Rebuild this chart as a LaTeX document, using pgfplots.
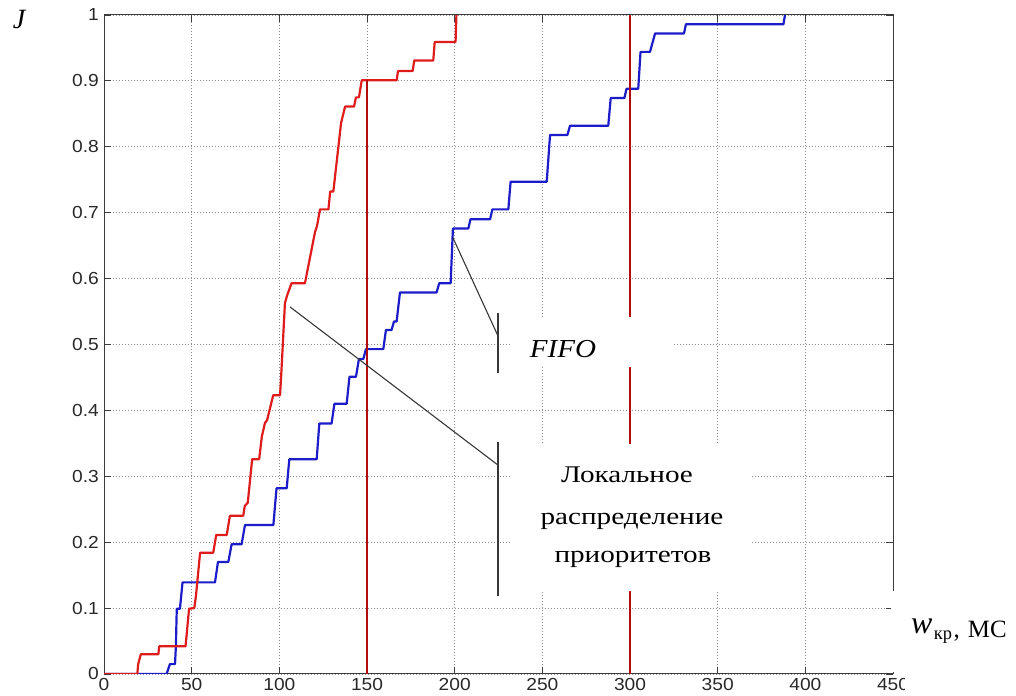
\documentclass[border=0pt]{standalone}
\usepackage{pgfplots}
\pgfplotsset{compat=1.18}
\usepackage{fontspec}
\setmainfont{Liberation Serif}
\newfontfamily\sansf{Liberation Sans}
\definecolor{cred}{RGB}{222,28,28}
\definecolor{cblue}{RGB}{28,28,200}
\definecolor{vred}{RGB}{178,12,12}
\definecolor{gridc}{RGB}{140,140,140}
\definecolor{axc}{RGB}{60,60,60}
\definecolor{tickc}{RGB}{40,40,40}
\definecolor{annc}{RGB}{55,55,55}

\pgfplotstableread{
x y
0 0
19 0
19.5 0.015
21 0.03
31 0.03
31.5 0.042
46.5 0.042
47.5 0.07
48.5 0.099
51.5 0.1
52.5 0.12
54.8 0.184
62.3 0.184
64 0.211
70 0.211
71.8 0.24
79.4 0.24
80.3 0.255
82 0.26
84.5 0.326
88.5 0.326
90 0.36
91.8 0.381
93 0.385
96.5 0.423
100.4 0.423
101 0.45
103.2 0.563
104.5 0.575
107 0.593
114.6 0.593
115.5 0.605
120.3 0.67
121.5 0.68
123.2 0.705
128 0.705
129 0.732
130.8 0.732
135.2 0.836
137.5 0.861
142.6 0.861
143.7 0.875
145.4 0.875
147 0.901
166.9 0.901
167.7 0.915
176 0.915
177 0.931
187.8 0.931
188.6 0.959
200.5 0.959
201 1
}\redtab

\pgfplotstableread{
x y
0 0
35.7 0
37.6 0.015
40.5 0.015
41 0.042
41.5 0.099
43.3 0.099
44.8 0.139
63.3 0.139
65 0.17
70.9 0.17
72.8 0.197
78.5 0.197
80.4 0.226
96.6 0.226
98.4 0.282
104.2 0.282
105.7 0.326
121.3 0.326
122.8 0.38
129.8 0.38
131.4 0.41
138.4 0.41
140 0.451
143.7 0.451
145.4 0.478
147.9 0.478
149.4 0.493
159.3 0.493
160.8 0.522
164 0.522
165.4 0.535
166.9 0.535
168.8 0.579
189.7 0.579
191.2 0.593
197.7 0.593
199 0.676
207.8 0.676
209 0.69
220.2 0.69
221.5 0.705
230.6 0.705
231.9 0.747
252.5 0.747
254.4 0.818
264.3 0.818
265.8 0.832
287.6 0.832
289 0.874
296.8 0.874
298 0.888
304.7 0.888
306 0.944
311.4 0.944
314.3 0.972
330.8 0.972
331.9 0.986
387.5 0.986
388.4 1
}\bluetab

\begin{document}
\begin{tikzpicture}[x=1bp,y=1bp]
\path[use as bounding box] (0,0) rectangle (1016,696);
\begin{axis}[
  at={(104bp,22bp)}, anchor=south west,
  scale only axis, width=789bp, height=659bp,
  xmin=0, xmax=450, ymin=0, ymax=1,
  xtick={0,50,100,150,200,250,300,350,400,450},
  ytick={0,0.1,0.2,0.3,0.4,0.5,0.6,0.7,0.8,0.9,1},
  xticklabel={\scalebox{1.1}[1]{\pgfmathprintnumber[assume math mode=true]{\tick}}},
  yticklabel={\scalebox{1.1}[1]{\pgfmathprintnumber[assume math mode=true]{\tick}}},
  ticklabel style={font=\sansf\fontsize{17.5}{19}\selectfont, text=tickc, inner sep=0pt},
  yticklabel style={anchor=east, xshift=-5bp},
  xticklabel style={anchor=north, yshift=-4bp},
  tick align=inside,
  major tick length=7bp,
  tick style={axc, line width=0.8bp},
  axis line style={axc, line width=1bp},
  grid=major,
  major grid style={gridc, dash pattern=on 1bp off 2bp, line width=0.9bp},
]
\addplot[cblue, line width=2.2bp, line join=round] table[x=x,y=y] {\bluetab};
\addplot[cred, line width=2.2bp, line join=round] table[x=x,y=y] {\redtab};
\addplot[vred, line width=1.4bp] coordinates {(150,0) (150,0.901)};
\addplot[vred, line width=1.4bp] coordinates {(300,0) (300,1)};
\addplot[annc, line width=1.1bp] coordinates {(106.1,0.557) (224.7,0.317)};
\addplot[annc, line width=1.1bp] coordinates {(224.7,0.352) (224.7,0.118)};
\addplot[annc, line width=1.1bp] coordinates {(199,0.662) (224.7,0.513)};
\addplot[annc, line width=1.1bp] coordinates {(224.7,0.548) (224.7,0.457)};
\end{axis}
% white label boxes as in the original
\fill[white] (510,329) rectangle (672,379);
\fill[white] (510,105) rectangle (750,252);
\fill[white] (891,24) rectangle (1016,105);
\fill[white] (905,0) rectangle (1016,24);
% texts
\node[anchor=base, inner sep=0pt, font=\fontsize{26}{28}\selectfont] at (563,338) {\scalebox{1.12}[1]{\itshape FIFO}};
\node[anchor=base, inner sep=0pt, font=\fontsize{24}{26}\selectfont] at (627,213) {\scalebox{1.22}[1]{Локальное}};
\node[anchor=base, inner sep=0pt, font=\fontsize{24}{26}\selectfont] at (632,171) {\scalebox{1.22}[1]{распределение}};
\node[anchor=base, inner sep=0pt, font=\fontsize{24}{26}\selectfont] at (633,133) {\scalebox{1.22}[1]{приоритетов}};
\node[anchor=base, inner sep=0pt, font=\fontsize{28}{30}\selectfont] at (19,667) {\itshape J};
\node[anchor=base west, inner sep=0pt] at (911,62) {\fontsize{32}{34}\selectfont\itshape w\kern1.5bp\raisebox{-6bp}{\upshape\fontsize{18.5}{20}\selectfont кр}\upshape\fontsize{25}{27}\selectfont\kern1.5bp\raisebox{-4bp}{,\kern8bp МС}};
\end{tikzpicture}
\end{document}
